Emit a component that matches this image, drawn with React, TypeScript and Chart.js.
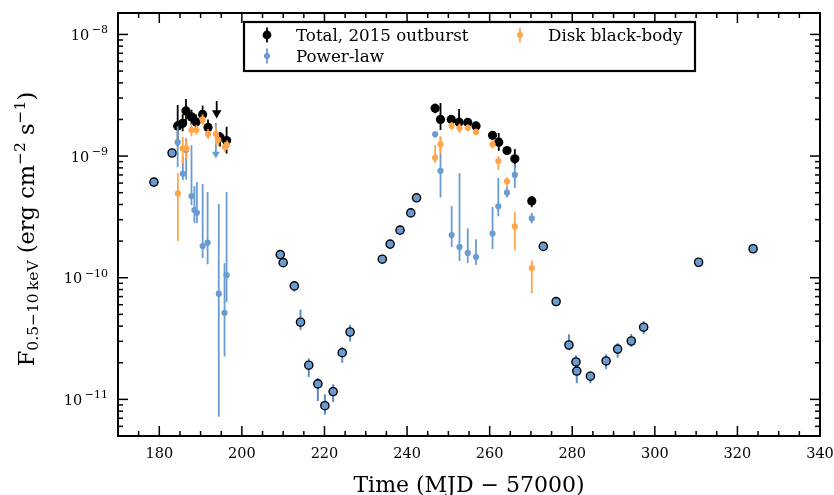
import React, { useEffect, useRef } from 'react';
import { Chart, registerables } from 'chart.js';

Chart.register(...registerables);

// ---------------- data ----------------
const seriesLabels = ['Total, 2015 outburst', 'Power-law', 'Disk black-body'];
const xAxisTitle = 'Time (MJD \u2212 57000)';

const xTicks = [180, 200, 220, 240, 260, 280, 300, 320, 340];
const yTicks = [1e-11, 1e-10, 1e-9, 1e-8];
const yTickExp = ['\u221211', '\u221210', '\u22129', '\u22128'];

// other epochs (blue circles, black edge)
const quietX = [178.7, 183.1, 209.3, 210.0, 212.7, 214.2, 216.2, 218.4, 220.1, 222.1, 224.3, 226.2, 234.0, 235.9, 238.3, 240.9, 242.3, 273.0, 276.1, 279.2, 280.9, 281.1, 284.4, 288.2, 291.0, 294.3, 297.3, 310.6, 323.8];
const quietY = [6.11e-10, 1.06e-9, 1.55e-10, 1.33e-10, 8.57e-11, 4.31e-11, 1.91e-11, 1.34e-11, 8.87e-12, 1.16e-11, 2.42e-11, 3.58e-11, 1.42e-10, 1.89e-10, 2.46e-10, 3.41e-10, 4.54e-10, 1.81e-10, 6.37e-11, 2.80e-11, 2.03e-11, 1.71e-11, 1.55e-11, 2.07e-11, 2.59e-11, 3.02e-11, 3.92e-11, 1.34e-10, 1.73e-10];
const quietLo = [5.8e-10, 1.01e-9, 1.48e-10, 1.27e-10, 7.7e-11, 3.72e-11, 1.53e-11, 9.7e-12, 7.5e-12, 9.5e-12, 2.0e-11, 3.0e-11, 1.36e-10, 1.82e-10, 2.36e-10, 3.27e-10, 4.36e-10, 1.74e-10, 6.05e-11, 2.53e-11, 1.85e-11, 1.36e-11, 1.36e-11, 1.78e-11, 2.2e-11, 2.7e-11, 3.45e-11, 1.29e-10, 1.66e-10];
const quietHi = [6.4e-10, 1.11e-9, 1.62e-10, 1.39e-10, 9.2e-11, 5.47e-11, 2.17e-11, 1.5e-11, 1.1e-11, 1.33e-11, 2.7e-11, 4.1e-11, 1.48e-10, 1.96e-10, 2.56e-10, 3.55e-10, 4.72e-10, 1.88e-10, 6.7e-11, 3.43e-11, 2.3e-11, 1.9e-11, 1.7e-11, 2.35e-11, 2.9e-11, 3.45e-11, 4.4e-11, 1.39e-10, 1.8e-10];

// total flux, 2015 outburst
const totalX = [184.45, 185.66, 186.46, 187.8, 188.9, 190.5, 191.8, 194.7, 196.3, 246.8, 248.1, 250.7, 252.6, 254.7, 256.7, 260.7, 262.2, 264.2, 266.1, 270.2];
const totalY = [1.77e-9, 1.86e-9, 2.35e-9, 2.10e-9, 1.91e-9, 2.20e-9, 1.72e-9, 1.43e-9, 1.34e-9, 2.47e-9, 2.0e-9, 2.0e-9, 1.90e-9, 1.89e-9, 1.77e-9, 1.48e-9, 1.30e-9, 1.11e-9, 9.5e-10, 4.28e-10];
const totalLo = [1.2e-9, 1.6e-9, 1.9e-9, 1.8e-9, 1.65e-9, 1.85e-9, 1.5e-9, 1.2e-9, 1.05e-9, 2.25e-9, 1.64e-9, 1.85e-9, 1.6e-9, 1.75e-9, 1.65e-9, 1.37e-9, 1.1e-9, 1.02e-9, 8.0e-10, 3.8e-10];
const totalHi = [2.63e-9, 2.2e-9, 2.95e-9, 2.4e-9, 2.2e-9, 2.6e-9, 2.0e-9, 1.58e-9, 1.74e-9, 2.7e-9, 2.73e-9, 2.15e-9, 2.44e-9, 2.05e-9, 1.9e-9, 1.6e-9, 1.55e-9, 1.2e-9, 1.14e-9, 4.69e-10];
const totalLimX = [193.9];
const totalLimY = [2.26e-9];
const totalLimHi = [2.84e-9];

// power-law component
const plX = [184.45, 185.7, 186.5, 187.8, 188.5, 189.1, 190.5, 191.7, 194.4, 195.8, 196.3, 246.8, 248.1, 250.8, 252.7, 254.7, 256.7, 260.7, 262.1, 264.2, 266.1, 270.2];
const plY = [1.3e-9, 7.15e-10, 1.12e-9, 4.69e-10, 3.6e-10, 3.42e-10, 1.82e-10, 1.94e-10, 7.4e-11, 5.15e-11, 1.05e-10, 1.51e-9, 7.56e-10, 2.24e-10, 1.79e-10, 1.6e-10, 1.48e-10, 2.31e-10, 3.86e-10, 5.0e-10, 7.0e-10, 3.07e-10];
const plLo = [8.1e-10, 6.35e-10, 6.4e-10, 3.95e-10, 2.81e-10, 2.81e-10, 1.45e-10, 1.29e-10, 7.2e-12, 2.25e-11, 6.3e-11, 1.42e-9, 4.57e-10, 1.79e-10, 1.37e-10, 1.32e-10, 1.27e-10, 1.72e-10, 3.2e-10, 4.57e-10, 5.46e-10, 2.8e-10];
const plHi = [1.75e-9, 9.8e-10, 1.4e-9, 1.23e-9, 5.66e-10, 6.1e-10, 5.88e-10, 5.06e-10, 4.03e-10, 1.32e-10, 5.06e-10, 1.6e-9, 1.44e-9, 3.88e-10, 7.24e-10, 2.55e-10, 2.07e-10, 3.81e-10, 6.6e-10, 5.6e-10, 8.6e-10, 3.41e-10];
const plLimX = [193.7];
const plLimY = [1.04e-9];
const plLimHi = [1.87e-9];

// disk black-body component
const diskX = [184.5, 185.66, 186.6, 187.8, 189.0, 190.5, 191.8, 193.7, 194.3, 195.9, 196.4, 246.8, 248.1, 250.8, 252.7, 254.7, 256.7, 260.7, 262.1, 264.2, 266.1, 270.2];
const diskY = [4.93e-10, 1.16e-9, 1.16e-9, 1.64e-9, 1.64e-9, 2.0e-9, 1.52e-9, 1.52e-9, 1.36e-9, 1.19e-9, 1.23e-9, 9.7e-10, 1.25e-9, 1.77e-9, 1.70e-9, 1.71e-9, 1.58e-9, 1.25e-9, 9.1e-10, 6.2e-10, 2.64e-10, 1.2e-10];
const diskLo = [2.0e-10, 8.7e-10, 9.5e-10, 1.45e-9, 1.5e-9, 1.8e-9, 1.38e-9, 1.25e-9, 1.2e-9, 1.08e-9, 1.12e-9, 8.8e-10, 1.05e-9, 1.65e-9, 1.55e-9, 1.6e-9, 1.48e-9, 1.15e-9, 7.7e-10, 5.6e-10, 1.68e-10, 7.45e-11];
const diskHi = [7.25e-10, 1.44e-9, 1.35e-9, 1.85e-9, 1.8e-9, 2.2e-9, 1.66e-9, 1.75e-9, 1.5e-9, 1.3e-9, 1.34e-9, 1.23e-9, 1.45e-9, 1.9e-9, 1.85e-9, 1.82e-9, 1.68e-9, 1.35e-9, 1.0e-9, 6.7e-10, 3.48e-10, 1.39e-10];

// ---------------- styles ----------------
const BLUE = '#6a9bd1';
const ORANGE = '#ffa64d';
const BLACK = '#000000';
const FONT = "'DejaVu Serif', serif";

const pts = (xs: number[], ys: number[]) => xs.map((x, i) => ({ x, y: ys[i] }));

function drawRich(ctx: CanvasRenderingContext2D, segs: { t: string; s: number; dy: number }[], x: number, y: number, align: 'left' | 'center' | 'right') {
  let total = 0;
  for (const g of segs) {
    ctx.font = `${g.s}px ${FONT}`;
    total += ctx.measureText(g.t).width;
  }
  let cx = align === 'left' ? x : align === 'center' ? x - total / 2 : x - total;
  ctx.textAlign = 'left';
  ctx.textBaseline = 'alphabetic';
  for (const g of segs) {
    ctx.font = `${g.s}px ${FONT}`;
    ctx.fillText(g.t, cx, y + g.dy);
    cx += ctx.measureText(g.t).width;
  }
}

const errorBarPlugin = {
  id: 'errbars',
  beforeDatasetDraw(chart: any, args: any) {
    const ds = chart.data.datasets[args.index];
    if (!ds.errLo || !ds.errHi) return;
    const ctx = chart.ctx;
    const xs = chart.scales.x;
    const ys = chart.scales.y;
    const a = chart.chartArea;
    ctx.save();
    ctx.beginPath();
    ctx.rect(a.left, a.top, a.right - a.left, a.bottom - a.top);
    ctx.clip();
    ctx.strokeStyle = ds.errColor;
    ctx.lineWidth = ds.errWidth;
    ds.data.forEach((p: any, i: number) => {
      const px = xs.getPixelForValue(p.x);
      const y1 = ys.getPixelForValue(ds.errLo[i]);
      const y2 = ys.getPixelForValue(ds.errHi[i]);
      ctx.beginPath();
      ctx.moveTo(px, y1);
      ctx.lineTo(px, y2);
      ctx.stroke();
    });
    ctx.restore();
  },
};

const framePlugin = {
  id: 'frame',
  afterDraw(chart: any) {
    const ctx: CanvasRenderingContext2D = chart.ctx;
    const a = chart.chartArea;
    const xs = chart.scales.x;
    const ys = chart.scales.y;
    ctx.save();
    ctx.strokeStyle = '#000';
    ctx.fillStyle = '#000';
    // ticks
    ctx.lineWidth = 1.5;
    const tick = (x1: number, y1: number, x2: number, y2: number) => {
      ctx.beginPath();
      ctx.moveTo(x1, y1);
      ctx.lineTo(x2, y2);
      ctx.stroke();
    };
    for (let v = xs.min; v <= xs.max + 1e-9; v += 5) {
      const px = xs.getPixelForValue(v);
      const major = xTicks.includes(v);
      const L = major ? 10 : 5;
      tick(px, a.bottom, px, a.bottom - L);
      tick(px, a.top, px, a.top + L);
    }
    for (let k = -12; k <= -8; k++) {
      for (let m = 1; m <= 9; m++) {
        const v = m * Math.pow(10, k);
        if (v < ys.min || v > ys.max) continue;
        const py = ys.getPixelForValue(v);
        const L = m === 1 ? 10 : 5;
        tick(a.left, py, a.left + L, py);
        tick(a.right, py, a.right - L, py);
      }
    }
    // frame
    ctx.lineWidth = 2;
    ctx.strokeRect(a.left, a.top, a.right - a.left, a.bottom - a.top);

    // x tick labels
    ctx.font = `14.5px ${FONT}`;
    ctx.textAlign = 'center';
    ctx.textBaseline = 'alphabetic';
    xTicks.forEach((v) => {
      ctx.fillText(String(v), xs.getPixelForValue(v), a.bottom + 22);
    });
    // y tick labels
    yTicks.forEach((v, i) => {
      const py = ys.getPixelForValue(v);
      ctx.font = `11px ${FONT}`;
      const sw = ctx.measureText(yTickExp[i]).width;
      const right = a.left - 10;
      ctx.textAlign = 'left';
      ctx.fillText(yTickExp[i], right - sw, py - 1);
      ctx.font = `14.5px ${FONT}`;
      ctx.textAlign = 'right';
      ctx.fillText('10', right - sw - 2.5, py + 5.5);
    });

    // x axis title
    ctx.font = `22px ${FONT}`;
    ctx.textAlign = 'center';
    ctx.fillText(xAxisTitle, (a.left + a.right) / 2, a.bottom + 56);

    // y axis title
    ctx.save();
    ctx.translate(34, 229);
    ctx.rotate(-Math.PI / 2);
    drawRich(ctx, [
      { t: 'F', s: 22.5, dy: 0 },
      { t: '0.5\u221210\u2009keV', s: 15.5, dy: 4 },
      { t: ' (erg cm', s: 22.5, dy: 0 },
      { t: '\u22122', s: 15.5, dy: -9 },
      { t: ' s', s: 22.5, dy: 0 },
      { t: '\u22121', s: 15.5, dy: -9 },
      { t: ')', s: 22.5, dy: 0 },
    ], 0, 0, 'center');
    ctx.restore();

    // legend
    const lx0 = 244, ly0 = 22, lx1 = 695, ly1 = 71;
    ctx.fillStyle = '#fff';
    ctx.fillRect(lx0, ly0, lx1 - lx0, ly1 - ly0);
    ctx.strokeStyle = '#000';
    ctx.lineWidth = 2.2;
    ctx.strokeRect(lx0, ly0, lx1 - lx0, ly1 - ly0);
    const entries = [
      { label: seriesLabels[0], color: BLACK, r: 4.4, mx: 267, my: 35, tx: 296 },
      { label: seriesLabels[2], color: ORANGE, r: 3, mx: 520, my: 35, tx: 548 },
      { label: seriesLabels[1], color: BLUE, r: 3, mx: 267, my: 56, tx: 296 },
    ];
    entries.forEach((e) => {
      ctx.strokeStyle = e.color;
      ctx.lineWidth = 1.8;
      ctx.beginPath();
      ctx.moveTo(e.mx, e.my - 7.5);
      ctx.lineTo(e.mx, e.my + 7.5);
      ctx.stroke();
      ctx.fillStyle = e.color;
      ctx.beginPath();
      ctx.arc(e.mx, e.my, e.r, 0, Math.PI * 2);
      ctx.fill();
      ctx.fillStyle = '#000';
      ctx.font = `16.7px ${FONT}`;
      ctx.textAlign = 'left';
      ctx.textBaseline = 'alphabetic';
      ctx.fillText(e.label, e.tx, e.my + 5.5);
    });
    ctx.restore();
  },
};

export default function App() {
  const ref = useRef<HTMLCanvasElement>(null);
  useEffect(() => {
    document.body.style.margin = '0';
    const chart = new Chart(ref.current as HTMLCanvasElement, {
      type: 'scatter',
      data: {
        datasets: [
          {
            label: seriesLabels[2],
            data: pts(diskX, diskY),
            errLo: diskLo, errHi: diskHi, errColor: ORANGE, errWidth: 1.8,
            pointRadius: 3.1, pointBackgroundColor: ORANGE, pointBorderWidth: 0,
            order: 0,
          } as any,
          {
            label: seriesLabels[1],
            data: pts(plX, plY),
            errLo: plLo, errHi: plHi, errColor: BLUE, errWidth: 1.8,
            pointRadius: 3.1, pointBackgroundColor: BLUE, pointBorderWidth: 0,
            order: 1,
          } as any,
          {
            label: 'pl-limit',
            data: pts(plLimX, plLimY),
            errLo: plLimY, errHi: plLimHi, errColor: BLUE, errWidth: 1.8,
            pointStyle: 'triangle', rotation: 180,
            pointRadius: 4.5, pointBackgroundColor: BLUE, pointBorderWidth: 0,
            order: 1,
          } as any,
          {
            label: seriesLabels[0],
            data: pts(totalX, totalY),
            errLo: totalLo, errHi: totalHi, errColor: BLACK, errWidth: 1.8,
            pointRadius: 4.6, pointBackgroundColor: BLACK, pointBorderWidth: 0,
            order: 2,
          } as any,
          {
            label: 'total-limit',
            data: pts(totalLimX, totalLimY),
            errLo: totalLimY, errHi: totalLimHi, errColor: BLACK, errWidth: 1.8,
            pointStyle: 'triangle', rotation: 180,
            pointRadius: 5.5, pointBackgroundColor: BLACK, pointBorderWidth: 0,
            order: 2,
          } as any,
          {
            label: 'other',
            data: pts(quietX, quietY),
            errLo: quietLo, errHi: quietHi, errColor: '#5a8cc4', errWidth: 2,
            pointRadius: 4.1, pointBackgroundColor: BLUE, pointBorderColor: '#000', pointBorderWidth: 1.4,
            order: 3,
          } as any,
        ],
      },
      options: {
        animation: false,
        responsive: false,
        events: [],
        layout: { padding: { left: 118, top: 13, right: 14, bottom: 59 } },
        plugins: { legend: { display: false }, tooltip: { enabled: false } },
        scales: {
          x: { type: 'linear', min: 170, max: 340, display: false },
          y: { type: 'logarithmic', min: 5e-12, max: 1.5e-8, display: false },
        },
      },
      plugins: [errorBarPlugin, framePlugin],
    });
    return () => chart.destroy();
  }, []);
  return (
    <div style={{ position: 'fixed', left: 0, top: 0, width: 834, height: 495, background: '#fff' }}>
      <canvas ref={ref} width={834} height={495} style={{ width: 834, height: 495, display: 'block' }} />
    </div>
  );
}
